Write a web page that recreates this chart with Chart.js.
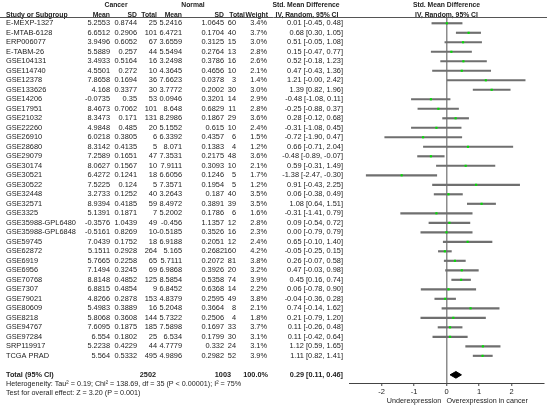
<!DOCTYPE html>
<html>
<head>
<meta charset="utf-8">
<script src="https://cdn.jsdelivr.net/npm/chart.js@4.4.0/dist/chart.umd.min.js"></script>
<style>
  html, body { margin: 0; padding: 0; background: #fff; }
  #forest { display: block; }
</style>
</head>
<body>
<canvas id="forest" width="550" height="406"></canvas>
<script>
// Study data
const studies = ['E-MEXP-1327', 'E-MTAB-6128', 'ERP006077', 'E-TABM-26', 'GSE104131', 'GSE114740', 'GSE12378', 'GSE133626',
    'GSE14206', 'GSE17951', 'GSE21032', 'GSE22260', 'GSE26910', 'GSE28680', 'GSE29079', 'GSE30174', 'GSE30521', 'GSE30522',
    'GSE32448', 'GSE32571', 'GSE3325', 'GSE35988-GPL6480', 'GSE35988-GPL6848', 'GSE59745', 'GSE62872', 'GSE6919', 'GSE6956',
    'GSE70768', 'GSE7307', 'GSE79021', 'GSE80609', 'GSE8218', 'GSE94767', 'GSE97284', 'SRP119917', 'TCGA PRAD'];

const cancerMean = ['5.2553', '6.6512', '3.9496', '5.5889', '3.4933', '4.5501', '7.8658', '4.168', '-0.0735', '8.4673', '8.3473',
    '4.9848', '6.0218', '8.3142', '7.2589', '8.0627', '6.4272', '7.5225', '3.2733', '8.9394', '5.1391', '-0.3576', '-0.5161',
    '7.0439', '5.1511', '5.7665', '7.1494', '8.8148', '6.8815', '4.8266', '5.4983', '5.8068', '7.6095', '6.554', '5.2238', '5.564'];
const cancerSD = ['0.8744', '0.2906', '0.6052', '0.257', '0.5164', '0.272', '0.1694', '0.3377', '0.35', '0.7062', '0.171',
    '0.485', '0.3805', '0.4135', '0.1651', '0.1567', '0.1241', '0.124', '0.1252', '0.4185', '0.1871', '1.0439', '0.8269',
    '0.1752', '0.2928', '0.2258', '0.3245', '0.4852', '0.4854', '0.2878', '0.3889', '0.3608', '0.1875', '0.1802', '0.4229', '0.5332'];
const cancerN = [25, 101, 67, 44, 16, 10, 36, 30, 53, 101, 131, 20, 6, 5, 47, 10, 18, 5, 40, 59, 7, 49, 10, 18, 264, 65, 69,
    125, 9, 153, 16, 144, 185, 25, 44, 495];

const normalMean = ['5.2416', '6.4721', '3.6559', '5.5494', '3.2498', '4.3645', '7.6623', '3.7772', '0.0946', '8.648', '8.2986',
    '5.1552', '6.3392', '8.071', '7.3531', '7.9111', '6.6056', '7.3571', '3.2643', '8.4972', '5.2002', '-0.456', '-0.5185',
    '6.9188', '5.165', '5.7111', '6.9868', '8.5854', '6.8452', '4.8379', '5.2048', '5.7322', '7.5898', '6.534', '4.7779', '4.9896'];
const normalSD = ['1.0645', '0.1704', '0.3125', '0.2764', '0.3786', '0.4656', '0.0378', '0.2002', '0.3201', '0.6829', '0.1867',
    '0.615', '0.4357', '0.1383', '0.2175', '0.3093', '0.1246', '0.1954', '0.187', '0.3891', '0.1786', '1.1357', '0.3526',
    '0.2051', '0.2682', '0.2072', '0.3926', '0.5358', '0.6368', '0.2595', '0.3664', '0.2506', '0.1697', '0.1799', '0.332', '0.2982'];
const normalN = [60, 40, 15, 13, 16, 10, 3, 30, 14, 11, 29, 10, 6, 4, 48, 10, 5, 5, 40, 39, 6, 12, 16, 12, 160, 81, 20, 74, 14,
    49, 8, 4, 33, 30, 24, 52];

const weights = ['3.4%', '3.7%', '3.0%', '2.8%', '2.6%', '2.1%', '1.4%', '3.0%', '2.9%', '2.8%', '3.6%', '2.4%', '1.5%', '1.2%',
    '3.6%', '2.1%', '1.7%', '1.2%', '3.5%', '3.5%', '1.6%', '2.8%', '2.3%', '2.4%', '4.2%', '3.8%', '3.2%', '3.9%', '2.2%',
    '3.8%', '2.1%', '1.8%', '3.7%', '3.1%', '3.1%', '3.9%'];

// Std. mean difference and 95% CI
const smd = [0.01, 0.68, 0.51, 0.15, 0.52, 0.47, 1.21, 1.39, -0.48, -0.25, 0.28, -0.31, -0.72, 0.66, -0.48, 0.59, -1.38, 0.91,
    0.06, 1.08, -0.31, 0.09, 0.00, 0.65, -0.05, 0.26, 0.47, 0.45, 0.06, -0.04, 0.74, 0.21, 0.11, 0.11, 1.12, 1.11];
const ciLow = [-0.45, 0.30, -0.05, -0.47, -0.18, -0.43, -0.00, 0.82, -1.08, -0.88, -0.12, -1.08, -1.90, -0.71, -0.89, -0.31,
    -2.47, -0.43, -0.38, 0.64, -1.41, -0.54, -0.79, -0.10, -0.25, -0.07, -0.03, 0.16, -0.78, -0.36, -0.14, -0.79, -0.26, -0.42,
    0.59, 0.82];
const ciHigh = [0.48, 1.05, 1.08, 0.77, 1.23, 1.36, 2.42, 1.96, 0.11, 0.37, 0.68, 0.45, 0.47, 2.04, -0.07, 1.49, -0.30, 2.25,
    0.49, 1.51, 0.79, 0.72, 0.79, 1.40, 0.15, 0.58, 0.98, 0.74, 0.90, 0.28, 1.62, 1.20, 0.48, 0.64, 1.65, 1.41];

// Pooled result
const totalN = [2502, 1003];
const totalCI = [0.11, 0.29, 0.46]; // low, estimate, high
const heterogeneity = 'Heterogeneity: Tau\u00b2 = 0.19; Chi\u00b2 = 138.69, df = 35 (P < 0.00001); I\u00b2 = 75%';
const overallTest = 'Test for overall effect: Z = 3.20 (P = 0.001)';

const xTicks = [-3, -2, -1, 0, 1, 2, 3];
const axisNotes = ['Underexpression', 'Overexpression in cancer'];

const totalRow = studies.length + 1;

function fmt(v) {
    return (v < 0 ? '-' : '') + Math.abs(v).toFixed(2);
}

// CI text as RevMan prints it (GSE12378 low bound shows as -0.00)
const ciText = smd.map((m, i) => {
    const lo = (i === 6) ? '-0.00' : fmt(ciLow[i]);
    return fmt(m) + ' [' + lo + ', ' + fmt(ciHigh[i]) + ']';
});

const FONT = '"Liberation Sans", Arial, sans-serif';
const TXT = '#222';

// Draws the table on the left, the headers and the notes under the axis
const tablePlugin = {
    id: 'forestTable',
    afterDraw(chart) {
        const ctx = chart.ctx;
        const y = chart.scales.y;
        const x = chart.scales.x;
        const area = chart.chartArea;
        ctx.save();
        ctx.fillStyle = TXT;
        ctx.textBaseline = 'middle';

        // headers
        ctx.font = 'bold 6.8px ' + FONT;
        const h1 = y.getPixelForValue(-1.95);
        const h2 = y.getPixelForValue(-0.9);
        ctx.textAlign = 'center';
        ctx.fillText('Cancer', 116, h1);
        ctx.fillText('Normal', 193, h1);
        ctx.fillText('Std. Mean Difference', 306, h1);
        ctx.fillText('IV, Random, 95% CI', 307, h2);
        ctx.fillText('Std. Mean Difference', x.getPixelForValue(0), h1);
        ctx.fillText('IV, Random, 95% CI', x.getPixelForValue(0), h2);
        ctx.textAlign = 'left';
        ctx.fillText('Study or Subgroup', 6, h2);
        ctx.textAlign = 'right';
        [['Mean', 110], ['SD', 137], ['Total', 157], ['Mean', 182], ['SD', 224], ['Total', 245], ['Weight', 268]]
            .forEach(([t, px]) => ctx.fillText(t, px, h2));

        // header rule
        ctx.strokeStyle = '#555';
        ctx.lineWidth = 1;
        ctx.beginPath();
        ctx.moveTo(0, area.top + 0.5);
        ctx.lineTo(547, area.top + 0.5);
        ctx.stroke();

        // study rows
        ctx.font = '7.4px ' + FONT;
        studies.forEach((s, i) => {
            const py = y.getPixelForValue(i);
            ctx.textAlign = 'left';
            ctx.fillText(s, 6, py);
            ctx.textAlign = 'right';
            ctx.fillText(cancerMean[i], 110, py);
            ctx.fillText(cancerSD[i], 137, py);
            ctx.fillText(String(cancerN[i]), 157, py);
            ctx.fillText(normalMean[i], 182, py);
            ctx.fillText(normalSD[i], 224, py);
            ctx.fillText(String(normalN[i]), 236, py);
            ctx.fillText(weights[i], 267, py);
            ctx.fillText(ciText[i], 343, py);
        });

        // total row
        const ty = y.getPixelForValue(totalRow);
        ctx.font = 'bold 7.3px ' + FONT;
        ctx.textAlign = 'left';
        ctx.fillText('Total (95% CI)', 6, ty);
        ctx.textAlign = 'right';
        ctx.fillText(String(totalN[0]), 156, ty);
        ctx.fillText(String(totalN[1]), 231, ty);
        ctx.fillText('100.0%', 268, ty);
        ctx.fillText(fmt(totalCI[1]) + ' [' + fmt(totalCI[0]) + ', ' + fmt(totalCI[2]) + ']', 343, ty);

        ctx.font = '7.2px ' + FONT;
        ctx.textAlign = 'left';
        ctx.fillText(heterogeneity, 6, y.getPixelForValue(totalRow + 0.95));
        ctx.fillText(overallTest, 6, y.getPixelForValue(totalRow + 1.9));

        // notes under the axis
        const ny = y.getPixelForValue(totalRow + 2.75);
        ctx.textAlign = 'center';
        ctx.fillText(axisNotes[0], x.getPixelForValue(-1), ny);
        ctx.fillText(axisNotes[1], x.getPixelForValue(1.25), ny);
        ctx.restore();
    }
};

Chart.defaults.font.family = FONT;
Chart.defaults.color = TXT;

const ctx = document.getElementById('forest').getContext('2d');
const chart = new Chart(ctx, {
    type: 'scatter',
    data: {
        datasets: [
            {
                // confidence intervals as thin floating bars
                type: 'bar',
                indexAxis: 'y',
                data: studies.map((s, i) => ({ x: [ciLow[i], ciHigh[i]], y: i })),
                backgroundColor: '#6f6f6f',
                barThickness: 1.5,
                borderWidth: 0,
                order: 2
            },
            {
                // point estimates
                data: studies.map((s, i) => ({ x: smd[i], y: i })),
                pointStyle: 'rect',
                pointRadius: 1.5,
                backgroundColor: '#00e000',
                borderWidth: 0,
                order: 1
            },
            {
                // pooled diamond
                data: [
                    { x: totalCI[0], y: totalRow },
                    { x: totalCI[1], y: totalRow - 0.35 },
                    { x: totalCI[2], y: totalRow },
                    { x: totalCI[1], y: totalRow + 0.35 },
                    { x: totalCI[0], y: totalRow }
                ],
                showLine: true,
                fill: 'shape',
                backgroundColor: '#000',
                borderColor: '#000',
                borderWidth: 1,
                pointRadius: 0,
                order: 0
            }
        ]
    },
    options: {
        responsive: false,
        animation: false,
        devicePixelRatio: 1,
        layout: { padding: { left: 349, right: 6, top: 17, bottom: 9 } },
        plugins: {
            legend: { display: false },
            tooltip: { enabled: false }
        },
        scales: {
            x: {
                type: 'linear',
                min: -3,
                max: 3,
                afterBuildTicks: (axis) => { axis.ticks = xTicks.map(v => ({ value: v })); },
                ticks: {
                    font: { size: 7.5 },
                    color: TXT,
                    padding: 1,
                    maxRotation: 0,
                    callback: (v) => (Math.abs(v) === 3 ? '' : String(v))
                },
                grid: {
                    color: (c) => (c.tick && c.tick.value === 0 ? '#8c8c8c' : 'rgba(0,0,0,0)'),
                    lineWidth: 1.5,
                    tickColor: (c) => (c.tick && Math.abs(c.tick.value) === 3 ? 'rgba(0,0,0,0)' : '#444'),
                    tickLength: 3,
                    tickWidth: 1
                },
                border: { display: true, color: '#444', width: 1 }
            },
            y: {
                type: 'linear',
                reverse: true,
                min: -0.66,
                max: 37.86,
                offset: false,
                display: false,
                grid: { offset: false }
            }
        }
    },
    plugins: [tablePlugin]
});
</script>
</body>
</html>
